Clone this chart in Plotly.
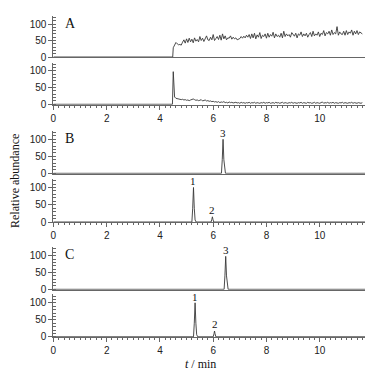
import plotly.graph_objects as go

# ---------------- data ----------------
# Panel A, upper trace (baseline then noisy signal starting at 4.5 min)
a1_base_t = [0.0, 4.48]
a1_base_y = [0, 0]
a1_vals = [28, 38, 44, 40, 37, 38, 36, 45, 52, 42, 55, 44, 57, 46, 54, 43, 58, 48, 53, 46,
           62, 50, 57, 47, 54, 64, 52, 50, 60, 52, 68, 50, 56, 62, 53, 66, 51, 70, 55, 64,
           52, 58, 57, 64, 54, 60, 55, 58, 52, 55, 56, 62, 57, 63, 58, 66, 60, 68, 56, 70,
           58, 72, 55, 67, 60, 74, 56, 66, 62, 70, 57, 72, 60, 68, 63, 75, 58, 70, 62, 66,
           60, 72, 58, 78, 62, 70, 64, 68, 60, 74, 66, 63, 72, 58, 70, 66, 76, 62, 70, 64,
           72, 60, 68, 74, 62, 78, 64, 70, 66, 76, 62, 72, 68, 80, 64, 74, 70, 78, 66, 82,
           68, 74, 70, 92, 66, 76, 70, 68, 78, 66, 80, 68, 76, 72, 82, 66, 78, 70, 80, 68,
           76, 72, 70]
a1_t0, a1_dt = 4.50, 0.05

# Panel A, lower trace (spike at 4.5 min then decaying noise)
a2_head_t = [0.0, 4.47, 4.50]
a2_head_y = [0, 0, 98]
a2_vals = [22, 18, 17, 15, 16, 14, 15, 13, 14, 12, 13, 11, 13, 14, 16, 14, 12, 13, 11, 12,
           14, 10, 12, 13, 10, 11, 9, 10, 8, 9, 7, 8, 6, 8, 5, 7, 6, 8, 5, 6,
           4, 7, 5, 6, 4, 5, 6, 4, 5, 3, 6, 4, 5, 3, 5, 4, 6, 3, 5, 4,
           6, 3, 5, 4, 3, 5, 4, 6, 3, 5, 4, 6, 3, 4, 5, 3, 6, 4, 5, 3,
           4, 6, 3, 5, 4, 3, 5, 4, 6, 3, 5, 4, 3, 5, 4, 6, 3, 5, 4, 3,
           6, 4, 5, 3, 4, 6, 3, 5, 4, 3, 5, 7, 3, 5, 4, 6, 3, 5, 4, 6,
           3, 5, 4, 3, 5, 4, 6, 3, 5, 4, 3, 5, 4, 6, 3, 5, 4, 3, 5, 4,
           3, 5]
a2_t0, a2_dt = 4.55, 0.05

# Panel B
b1_t = [0.0, 6.31, 6.34, 6.37, 6.40, 6.43, 6.46, 11.7]
b1_y = [0, 0, 40, 100, 40, 5, 0, 0]
b2_t = [0.0, 5.20, 5.23, 5.26, 5.29, 5.32, 5.36, 5.92, 5.95, 5.97, 5.99, 6.02, 11.7]
b2_y = [0, 0, 40, 100, 40, 6, 0, 0, 8, 15, 8, 0, 0]

# Panel C
c1_t = [0.0, 6.41, 6.44, 6.47, 6.50, 6.53, 6.56, 11.7]
c1_y = [0, 0, 40, 98, 40, 5, 0, 0]
c2_t = [0.0, 5.26, 5.29, 5.32, 5.35, 5.38, 5.42, 6.00, 6.03, 6.05, 6.07, 6.10, 11.7]
c2_y = [0, 0, 40, 100, 40, 6, 0, 0, 9, 17, 9, 0, 0]

# Peak labels: (text, t, y, subplot index)
peak_labels = [("3", 6.37, 118, 3), ("1", 5.26, 120, 4), ("2", 5.97, 36, 4),
               ("3", 6.47, 118, 5), ("1", 5.32, 118, 6), ("2", 6.05, 38, 6)]
panel_letters = [("A", 1), ("B", 3), ("C", 5)]

x_ticks = [0, 2, 4, 6, 8, 10]
y_ticks = [0, 50, 100]

# ---------------- figure ----------------
line_col = "#383838"
axis_col = "#666666"

a1_t = a1_base_t + [round(a1_t0 + a1_dt * i, 2) for i in range(len(a1_vals))]
a1_y = a1_base_y + a1_vals
a2_t = a2_head_t + [round(a2_t0 + a2_dt * i, 2) for i in range(len(a2_vals))]
a2_y = a2_head_y + a2_vals

series = [(a1_t, a1_y), (a2_t, a2_y), (b1_t, b1_y), (b2_t, b2_y), (c1_t, c1_y), (c2_t, c2_y)]

fig = go.Figure()
for i, (tt, yy) in enumerate(series, start=1):
    fig.add_trace(go.Scatter(x=tt, y=yy, mode="lines",
                             line=dict(color=line_col, width=0.9),
                             xaxis=f"x{i}" if i > 1 else "x",
                             yaxis=f"y{i}" if i > 1 else "y",
                             showlegend=False, hoverinfo="skip"))

# page body has an 8px default margin: lay out in window pixels, shifted by OFF
OFF = 8.0
W, H = 374.0, 366.0

def fx(px):
    return (px - OFF) / W

def fy(py):
    return 1 - (py - OFF) / H

# (zero pixel, pixels per 100) in window pixels
px_geom = [(57.0, 33.0), (104.3, 33.3), (173.3, 34.0), (222.0, 34.5), (289.3, 33.6), (336.8, 34.0)]
y_lo, y_hi = -1.0, 125.0
x_dom = [fx(53.4), fx(365.0)]
x_range = [0, 11.7]

layout = dict(width=int(W), height=int(H), margin=dict(l=0, r=0, t=0, b=0, pad=0),
              paper_bgcolor="white", plot_bgcolor="white", showlegend=False)

tick_font = dict(family="Liberation Sans, Arial", size=10, color="#222222")
for i, (z, s) in enumerate(px_geom, start=1):
    top_px = z - (y_hi / 100.0) * s
    bot_px = z - (y_lo / 100.0) * s
    dom = [fy(bot_px), fy(top_px)]
    bottom = (i % 2 == 0)
    xa = dict(domain=x_dom, range=x_range, anchor=f"y{i}" if i > 1 else "y",
              showline=True, linecolor=axis_col, linewidth=1,
              showgrid=False, zeroline=False, fixedrange=True, automargin=False)
    if bottom:
        xa.update(tickmode="array", tickvals=x_ticks, ticktext=[str(v) for v in x_ticks],
                  ticks="outside", ticklen=4, tickwidth=1, tickcolor=axis_col,
                  tickfont=tick_font,
                  minor=dict(dtick=0.2, ticks="outside", ticklen=2, tickwidth=1, tickcolor=axis_col))
    else:
        xa.update(showticklabels=False, ticks="")
    ya = dict(domain=dom, range=[y_lo, y_hi], anchor=f"x{i}" if i > 1 else "x",
              showline=True, linecolor=axis_col, linewidth=1,
              showgrid=False, zeroline=False, fixedrange=True, automargin=False,
              tickmode="array", tickvals=y_ticks, ticktext=[str(v) for v in y_ticks],
              ticks="outside", ticklen=4, tickwidth=1, tickcolor=axis_col,
              tickfont=tick_font,
              minor=dict(dtick=10, tick0=0, ticks="inside", ticklen=3, tickwidth=1, tickcolor=axis_col))
    layout["xaxis" if i == 1 else f"xaxis{i}"] = xa
    layout["yaxis" if i == 1 else f"yaxis{i}"] = ya

fig.update_layout(**layout)

serif = "Liberation Serif, Times New Roman, serif"
for txt, t, y, k in peak_labels:
    fig.add_annotation(x=t, y=y, xref=f"x{k}", yref=f"y{k}", text=txt, showarrow=False,
                       xanchor="center", yanchor="middle",
                       font=dict(family=serif, size=11, color="#111111"))
for txt, k in panel_letters:
    fig.add_annotation(x=0.35, y=103, xref=f"x{k}" if k > 1 else "x", yref=f"y{k}" if k > 1 else "y",
                       text=txt, showarrow=False, xanchor="left", yanchor="middle",
                       font=dict(family=serif, size=14, color="#111111"))

fig.add_annotation(x=fx(15), y=fy(181), xref="paper", yref="paper", text="Relative abundance",
                   showarrow=False, textangle=-90, xanchor="center", yanchor="middle",
                   font=dict(family=serif, size=12, color="#111111"))
fig.add_annotation(x=fx(200), y=fy(364), xref="paper", yref="paper", text="<i>t</i> / min",
                   showarrow=False, xanchor="center", yanchor="middle",
                   font=dict(family=serif, size=12, color="#111111"))

fig.write_html("out.html")
